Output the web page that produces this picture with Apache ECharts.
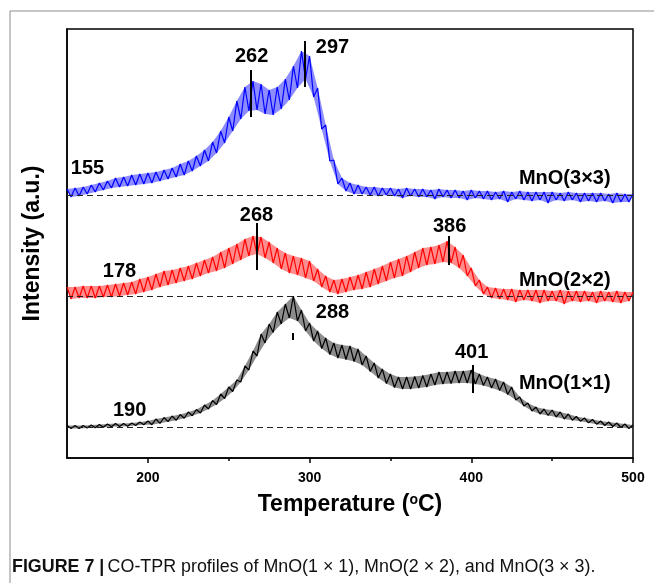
<!DOCTYPE html>
<html>
<head>
<meta charset="utf-8">
<script src="https://cdn.jsdelivr.net/npm/echarts@6/dist/echarts.min.js"></script>
<style>
  html, body { margin: 0; padding: 0; background: #fff; }
  #chart { width: 654px; height: 583px; }
</style>
</head>
<body>
<div id="chart"></div>
<script>
// sampling of the traces: 150 .. 500 degC every 2.5 degC
var tStart = 150;
var tStep = 2.5;

// MnO(3x3), blue trace (arbitrary units;
// even entries = top of the noise band, odd entries = bottom)
var mno33 = [
  269,261,270,262,271,264,273,266,275,268,
  277,270,280,271,281,272,283,273,284,274,
  285,275,286,277,288,279,290,281,294,283,
  297,287,302,292,308,297,316,305,327,315,
  341,327,357,339,371,347,377,348,374,344,
  368,343,371,349,379,358,392,370,407,379,
  402,361,370,329,333,297,298,274,280,267,
  275,264,273,264,271,263,271,262,270,263,
  270,262,269,260,270,262,269,261,269,261,
  268,259,269,261,268,260,268,260,267,258,
  268,260,267,259,267,258,266,259,267,256,
  266,259,267,258,266,257,266,258,266,255,
  266,258,265,257,266,258,265,256,265,257,
  265,256,265,257,264,255,265,256,264,256,
  264
];

// MnO(2x2), red trace
var mno22 = [
  171,159,171,160,172,160,172,160,172,161,
  173,161,174,162,175,163,176,164,179,166,
  181,168,184,171,187,173,188,175,190,177,
  192,179,195,182,198,185,201,187,206,190,
  210,194,214,198,219,202,222,204,221,200,
  216,195,210,189,205,185,202,183,200,180,
  197,177,189,171,182,166,178,164,179,166,
  181,168,183,169,186,171,189,174,192,177,
  196,180,199,182,202,186,206,190,210,193,
  211,194,213,196,217,195,211,190,203,182,
  190,172,178,164,171,160,170,159,169,158,
  169,156,168,158,168,157,168,155,168,157,
  167,157,168,154,167,157,167,156,167,157,
  166,155,167,157,166,156,167,155,166,157,
  166
];

// MnO(1x1), black trace
var mno11 = [
  32.5,29.5,32.5,29.5,32.5,30,33,30.3,33.5,30.7,
  34,31.3,34.5,31.5,34.5,31.7,35,32.5,36,33.3,
  37,33.3,39,34.7,40.5,36.3,42,37.7,43.5,39.7,
  46,42.3,48.5,45,53,49,57.5,53.5,64,59.5,
  71,66.5,78,76,92,88,107,102,124,115,
  134,125.5,146,134,154,140,162,137,148,127,
  135,117,127,109.5,120,103.5,115,100,113,98.5,
  112,96.5,109,93,102,86.5,95,80,89,74.5,
  84,70.5,81,69,81,69,81.5,70,82.5,71,
  84,73,86,74,86,74.5,87,75,87,75,
  88,74,84,72.5,81,70,79,67.5,76,63.5,
  71,58,61,52,55,47,51,44,49,42.5,
  48,41,46,39,44,37.7,41.5,36.8,40,35.2,
  38.5,33.8,37,32.5,36,31.5,35,30.5,34,29.5,
  33
];

// baselines of the three traces
var baselines = [262.3, 162, 30.5];

// axis ticks
var majorTicks = [200, 300, 400, 500];
var minorTicks = [250, 350, 450];

// annotations: text, temperature, intensity
var noteText = ['155', '262', '297', '178', '268', '386', '190', '288', '401', 'MnO(3\u00d73)', 'MnO(2\u00d72)', 'MnO(1\u00d71)'];
var noteT = [162.7, 264.2, 314.2, 182.5, 267.2, 386.6, 188.7, 314.2, 400.2, 457.8, 457.8, 457.8];
var noteV = [290, 402, 411, 187, 243, 232, 48, 146, 106, 280, 178, 75];

// peak marker ticks: temperature, top, bottom
var peakT = [263.5, 296.9, 267.2, 386, 289.5, 400.8];
var peakTop = [388, 417, 235, 222, 125, 93];
var peakBottom = [341, 371, 188, 193, 118, 65];

var captionText = '{b|FIGURE 7 |} {n|CO-TPR profiles of MnO(1 \u00d7 1), MnO(2 \u00d7 2), and MnO(3 \u00d7 3).}';

function pairs(vals) {
  return vals.map(function (v, i) { return [tStart + i * tStep, v]; });
}

var chart = echarts.init(document.getElementById('chart'));

var notes = noteText.map(function (s, i) { return { name: s, value: [noteT[i], noteV[i]] }; });
var ticks = peakT.map(function (t, i) { return [{ coord: [t, peakTop[i]] }, { coord: [t, peakBottom[i]] }]; });

var dash = { color: '#222', width: 1.2, type: [6, 4] };

function trace(name, vals, color, base) {
  return {
    name: name,
    type: 'line',
    data: pairs(vals),
    showSymbol: false,
    silent: true,
    lineStyle: { color: color, width: 1.2 },
    markLine: {
      silent: true, symbol: 'none', label: { show: false },
      lineStyle: dash,
      data: [{ yAxis: base }]
    },
    z: 3
  };
}

// light fill between the top and bottom of a noisy trace
function band(vals, color) {
  return {
    type: 'custom',
    silent: true,
    clip: true,
    data: [[tStart, vals[0]]],
    renderItem: function (params, api) {
      var up = [], low = [];
      vals.forEach(function (v, i) {
        var p = api.coord([tStart + i * tStep, v]);
        if (i % 2 === 0) up.push(p); else low.push(p);
      });
      return {
        type: 'polygon',
        shape: { points: up.concat(low.reverse()) },
        style: { fill: color, opacity: 0.45 }
      };
    },
    z: 2
  };
}

// squeeze the caption to mimic the condensed face of the original
var ctx = document.createElement('canvas').getContext('2d');
ctx.font = 'bold 18px "Liberation Sans"';
var capW = ctx.measureText('FIGURE 7 | ').width;
ctx.font = '18px "Liberation Sans"';
capW += ctx.measureText('CO-TPR profiles of MnO(1 \u00d7 1), MnO(2 \u00d7 2), and MnO(3 \u00d7 3).').width;
var capScale = 585 / capW;

var option = {
  animation: false,
  textStyle: { fontFamily: 'Liberation Sans, Arial, sans-serif' },
  grid: { left: 67, right: 21, top: 29, bottom: 125, show: true, borderColor: '#000', borderWidth: 1.5 },
  xAxis: [{
    type: 'value', min: 150, max: 500,
    axisLine: { show: true, lineStyle: { color: '#000', width: 1.5 } },
    axisTick: { show: true, customValues: majorTicks, length: 5, lineStyle: { color: '#000', width: 1.5 } },
    axisLabel: { customValues: majorTicks, color: '#000', fontSize: 14, fontWeight: 'bold', margin: 13 },
    splitLine: { show: false },
    name: '{t|Temperature (}{s|o}{t|C)}',
    nameLocation: 'middle',
    nameGap: 35,
    nameTextStyle: {
      rich: {
        t: { fontSize: 23, fontWeight: 'bold', color: '#000', fontFamily: 'Liberation Sans' },
        s: { fontSize: 14, fontWeight: 'bold', color: '#000', verticalAlign: 'top', fontFamily: 'Liberation Sans' }
      }
    }
  }, {
    type: 'value', min: 150, max: 500, position: 'bottom',
    axisLine: { show: false },
    axisTick: { show: true, customValues: minorTicks, length: 3, lineStyle: { color: '#000', width: 1.5 } },
    axisLabel: { show: false },
    splitLine: { show: false }
  }],
  yAxis: {
    type: 'value', min: 0, max: 429,
    axisLine: { show: true, lineStyle: { color: '#000', width: 1.5 } },
    axisTick: { show: false },
    axisLabel: { show: false },
    splitLine: { show: false },
    name: 'Intensity (a.u.)',
    nameLocation: 'middle',
    nameRotate: 90,
    nameGap: 23,
    nameTextStyle: { fontSize: 23, fontWeight: 'bold', color: '#000' }
  },
  series: [
    band(mno33, '#0000ff'),
    band(mno22, '#ff0000'),
    band(mno11, '#000000'),
    trace('MnO(3\u00d73)', mno33, '#0000ff', baselines[0]),
    trace('MnO(2\u00d72)', mno22, '#ff0000', baselines[1]),
    trace('MnO(1\u00d71)', mno11, '#000000', baselines[2]),
    {
      name: 'notes',
      type: 'scatter',
      data: notes,
      symbolSize: 1,
      itemStyle: { color: 'rgba(0,0,0,0)', opacity: 1 },
      silent: true,
      label: { show: true, position: 'inside', formatter: '{b}', color: '#000', opacity: 1, fontSize: 20, fontWeight: 'bold' },
      markLine: {
        silent: true, symbol: 'none', label: { show: false },
        lineStyle: { color: '#000', width: 2, type: 'solid', opacity: 1 },
        data: ticks
      },
      z: 5
    }
  ],
  graphic: [
    { type: 'line', shape: { x1: 10, y1: 11, x2: 654, y2: 11 }, style: { stroke: '#8c8c8c', lineWidth: 1 } },
    { type: 'line', shape: { x1: 10, y1: 11, x2: 10, y2: 583 }, style: { stroke: '#8c8c8c', lineWidth: 1 } },
    {
      type: 'text', x: 12, y: 567, scaleX: capScale,
      style: {
        text: captionText,
        verticalAlign: 'middle',
        rich: {
          b: { fontFamily: 'Liberation Sans', fontWeight: 'bold', fontSize: 18, fill: '#111' },
          n: { fontFamily: 'Liberation Sans', fontSize: 18, fill: '#111' }
        }
      }
    }
  ]
};

chart.setOption(option);
</script>
</body>
</html>
